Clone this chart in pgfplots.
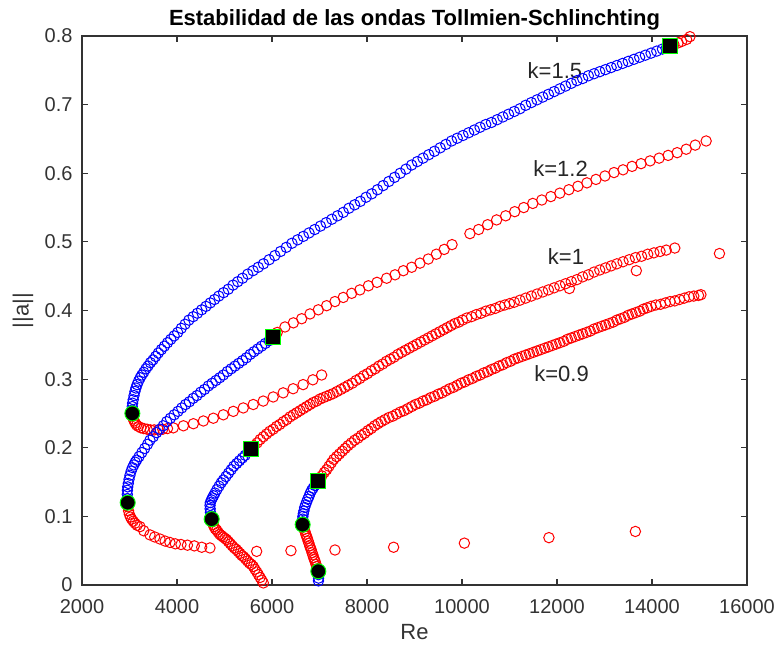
\documentclass[border=0pt]{standalone}
\usepackage{fontspec}
\setmainfont{Liberation Sans}
\usepackage{pgfplots}
\pgfplotsset{compat=1.18}

\pgfplotsset{
  bmk/.style={only marks, mark=o, mark size=2.6pt, color=blue, mark options={line width=0.5pt}},
  rmk/.style={only marks, mark=o, mark size=2.6pt, color=red, mark options={line width=0.5pt}},
}

\begin{document}
\begin{tikzpicture}
\path[use as bounding box] (0,0) rectangle (388.5pt,324pt);
\begin{axis}[
  at={(41pt,31.5pt)}, anchor=south west,
  width=332.5pt, height=274.5pt, scale only axis,
  xmin=2000, xmax=16000, ymin=0, ymax=0.8,
  xtick={2000,4000,6000,8000,10000,12000,14000,16000},
  ytick={0,0.1,0.2,0.3,0.4,0.5,0.6,0.7,0.8},
  scaled x ticks=false,
  tick align=inside, major tick length=3pt,
  axis line style={black!80, line width=0.6pt},
  tick style={black!80, line width=0.6pt},
  /pgf/number format/assume math mode=true,
  xticklabel style={/pgf/number format/1000 sep={}, font=\fontsize{10}{12}\selectfont, text=black!80, yshift=-3.5pt},
  yticklabel style={font=\fontsize{10}{12}\selectfont, text=black!80, xshift=-1.2pt},
  title={Estabilidad de las ondas Tollmien-Schlinchting},
  every axis title shift=0pt,
  title style={font=\fontsize{11}{13}\selectfont\bfseries, at={(axis description cs:0.5,1)}, anchor=base, yshift=5pt},
  xlabel={Re},
  xlabel style={font=\fontsize{11}{13}\selectfont, text=black!80, at={(axis description cs:0.5,0)}, anchor=base, yshift=-27.5pt},
  ylabel={||a||},
  ylabel style={font=\fontsize{11}{13}\selectfont, text=black!80, at={(axis description cs:-0.0887,0.5)}, anchor=center},
  clip=false,
]
% k = 1.5
\addplot[bmk] coordinates {
(3060,0.250)(3056,0.255)(3058,0.260)(3065,0.265)(3078,0.270)(3095,0.276)(3115,0.282)(3135,0.287)
(3160,0.292)(3190,0.297)(3225,0.302)(3260,0.306)(3300,0.310)(3345,0.315)(3390,0.319)(3440,0.324)
(3495,0.328)(3550,0.333)(3606,0.338)(3670,0.343)(3735,0.348)(3800,0.353)(3870,0.358)(3940,0.363)
(4015,0.368)(4090,0.374)(4170,0.380)(4250,0.386)(4340,0.391)(4430,0.396)(4520,0.401)(4610,0.406)
(4700,0.411)(4790,0.416)(4880,0.421)(4980,0.426)(5080,0.431)(5180,0.437)(5280,0.442)(5380,0.447)
(5490,0.453)(5600,0.458)(5710,0.463)(5820,0.468)(5940,0.474)(6060,0.480)(6180,0.486)(6300,0.492)
(6420,0.498)(6540,0.503)(6660,0.508)(6780,0.513)(6900,0.518)(7020,0.523)(7140,0.528)(7260,0.533)
(7380,0.538)(7500,0.543)(7620,0.549)(7740,0.554)(7860,0.559)(7980,0.565)(8100,0.570)(8220,0.576)
(8340,0.582)(8460,0.588)(8580,0.594)(8700,0.600)(8820,0.606)(8940,0.612)(9060,0.617)(9180,0.622)
(9300,0.627)(9420,0.632)(9540,0.637)(9660,0.642)(9780,0.647)(9900,0.651)(10020,0.655)(10140,0.659)
(10260,0.663)(10380,0.667)(10500,0.671)(10620,0.674)(10740,0.678)(10860,0.682)(10980,0.686)(11100,0.690)
(11220,0.694)(11340,0.699)(11460,0.703)(11580,0.707)(11700,0.711)(11820,0.715)(11940,0.719)(12060,0.723)
(12180,0.727)(12300,0.731)(12420,0.735)(12540,0.738)(12660,0.742)(12780,0.745)(12900,0.748)(13020,0.751)
(13140,0.754)(13260,0.757)(13380,0.760)(13500,0.763)(13620,0.766)(13740,0.769)(13860,0.772)(13980,0.775)
(14100,0.778)(14220,0.781)(14310,0.784)(14377,0.786)
};
\addplot[rmk] coordinates {
(3060,0.250)(3068,0.246)(3080,0.242)(3098,0.239)(3120,0.236)(3150,0.233)(3190,0.231)(3240,0.229)
(3300,0.228)(3370,0.227)(3440,0.226)(3520,0.226)(3610,0.226)(3700,0.227)(3800,0.228)(3922,0.229)
(4135,0.232)(4345,0.235)(4555,0.239)(4765,0.243)(4975,0.248)(5185,0.253)(5395,0.258)(5605,0.263)
(5815,0.268)(6025,0.274)(6235,0.280)(6445,0.286)(6655,0.292)(6860,0.299)(7045,0.306)
(14460,0.788)(14550,0.790)(14624,0.792)(14729,0.795)(14799,0.799)
};
% k = 1.2
\addplot[bmk] coordinates {
(2962,0.120)(2956,0.126)(2954,0.132)(2956,0.138)(2962,0.143)(2975,0.148)(2990,0.154)(3010,0.160)
(3035,0.166)(3062,0.171)(3092,0.175)(3120,0.179)(3151,0.182)(3200,0.187)(3260,0.193)(3320,0.199)
(3380,0.205)(3431,0.211)(3500,0.216)(3570,0.222)(3640,0.227)(3710,0.232)(3783,0.238)(3860,0.243)
(3940,0.248)(4020,0.253)(4100,0.258)(4180,0.263)(4260,0.267)(4340,0.272)(4420,0.276)(4500,0.281)
(4580,0.285)(4660,0.290)(4740,0.294)(4820,0.298)(4900,0.302)(4975,0.306)(5060,0.311)(5140,0.315)
(5220,0.319)(5300,0.323)(5380,0.327)(5460,0.331)(5540,0.336)(5620,0.340)(5700,0.344)(5780,0.348)
(5860,0.352)(5940,0.356)(6027,0.361)
};
\addplot[rmk] coordinates {
(6110,0.368)(6273,0.376)(6450,0.382)(6625,0.388)(6800,0.395)(6975,0.401)(7150,0.407)(7325,0.413)
(7500,0.419)(7677,0.425)(7850,0.430)(8030,0.436)(8210,0.441)(8414,0.447)(8590,0.452)(8765,0.458)
(8940,0.463)(9115,0.469)(9290,0.475)(9460,0.482)(9625,0.489)(9790,0.496)
(10167,0.512)(10350,0.518)(10540,0.525)(10729,0.532)(10920,0.538)(11110,0.544)(11300,0.550)(11490,0.556)
(11680,0.561)(11870,0.566)(12060,0.571)(12250,0.576)(12440,0.581)(12630,0.586)(12820,0.591)(13010,0.596)
(13200,0.601)(13390,0.605)(13580,0.610)(13770,0.614)(13960,0.618)(14150,0.622)(14340,0.626)(14530,0.630)
(14720,0.635)(14910,0.641)(15140,0.647)
(2962,0.120)(2968,0.114)(2980,0.108)(2998,0.103)(3020,0.099)(3046,0.096)(3078,0.093)(3116,0.090)
(3160,0.087)(3221,0.085)(3300,0.079)(3431,0.073)(3530,0.070)(3642,0.067)(3750,0.064)(3852,0.062)
(3965,0.060)(4084,0.059)(4220,0.058)(4364,0.057)(4520,0.055)(4694,0.054)(5677,0.049)(6399,0.050)
(7326,0.051)(8560,0.055)(10050,0.061)(11830,0.069)(13650,0.078)
};
% k = 1
\addplot[bmk] coordinates {
(4730,0.096)(4715,0.101)(4704,0.106)(4698,0.111)(4696,0.116)(4700,0.120)(4725,0.124)(4745,0.127)
(4770,0.130)(4800,0.134)(4840,0.139)(4885,0.144)(4930,0.149)(4975,0.153)(5030,0.158)(5085,0.163)
(5140,0.168)(5195,0.173)(5256,0.177)(5315,0.181)(5375,0.185)(5435,0.189)(5495,0.194)(5557,0.198)
};
\addplot[rmk] coordinates {
(5620,0.203)(5685,0.207)(5750,0.212)(5817,0.216)(5885,0.220)(5955,0.224)(6025,0.227)(6095,0.231)
(6165,0.234)(6238,0.238)(6310,0.241)(6380,0.245)(6450,0.248)(6520,0.251)(6590,0.254)(6660,0.257)
(6729,0.260)(6800,0.263)(6870,0.266)(6940,0.268)(7010,0.271)(7080,0.273)(7150,0.275)(7220,0.277)
(7290,0.279)(7370,0.282)(7450,0.285)(7530,0.288)(7606,0.291)(7690,0.294)(7770,0.298)(7850,0.301)
(7930,0.305)(8010,0.308)(8090,0.312)(8170,0.315)(8250,0.319)(8330,0.322)(8410,0.326)(8490,0.329)
(8570,0.332)(8650,0.336)(8730,0.339)(8810,0.342)(8890,0.345)(8970,0.348)(9050,0.351)(9130,0.354)
(9210,0.357)(9290,0.360)(9370,0.363)(9450,0.366)(9530,0.369)(9610,0.372)(9690,0.375)(9770,0.378)
(9850,0.381)(9930,0.383)(10010,0.386)(10100,0.389)(10200,0.391)(10300,0.394)(10400,0.396)(10500,0.399)
(10600,0.401)(10700,0.403)(10800,0.406)(10900,0.408)(11000,0.410)(11100,0.412)(11220,0.415)(11340,0.418)
(11460,0.421)(11580,0.424)(11700,0.427)(11820,0.430)(11940,0.433)(12060,0.436)(12180,0.439)(12300,0.442)
(12420,0.445)(12540,0.449)(12660,0.452)(12780,0.456)(12900,0.459)(13020,0.462)(13140,0.465)(13260,0.468)
(13390,0.471)(13520,0.474)(13650,0.477)(13780,0.479)(13910,0.482)(14040,0.484)(14170,0.486)(14300,0.488)
(14480,0.491)
(12260,0.432)(13670,0.458)(15420,0.483)
(4730,0.096)(4745,0.092)(4762,0.088)(4780,0.085)(4805,0.082)(4835,0.080)(4865,0.077)(4900,0.074)
(4935,0.072)(4970,0.070)(5010,0.068)(5046,0.066)(5085,0.063)(5125,0.060)(5165,0.057)(5205,0.054)
(5245,0.052)(5285,0.049)(5326,0.046)(5365,0.043)(5405,0.041)(5445,0.038)(5485,0.035)(5525,0.032)
(5565,0.030)(5606,0.027)(5640,0.023)(5680,0.019)(5715,0.015)(5750,0.011)(5785,0.007)(5817,0.003)
};
% k = 0.9
\addplot[bmk] coordinates {
(6645,0.088)(6643,0.092)(6645,0.096)(6650,0.100)(6659,0.104)(6672,0.108)(6688,0.113)(6708,0.117)
(6729,0.121)(6752,0.125)(6778,0.129)(6805,0.134)(6835,0.138)(6865,0.141)(6900,0.145)(6935,0.148)
(6975,0.152)
(6978,0.015)(6980,0.010)(6978,0.006)
};
\addplot[rmk] coordinates {
(6645,0.088)(6662,0.085)(6678,0.081)(6695,0.078)(6711,0.074)(6728,0.071)(6744,0.068)(6761,0.064)
(6777,0.061)(6794,0.057)(6810,0.054)(6827,0.051)(6843,0.047)(6860,0.044)(6876,0.040)(6893,0.037)
(6909,0.034)(6926,0.030)(6942,0.027)(6959,0.023)(6975,0.020)
(7000,0.154)(7050,0.159)(7100,0.164)(7150,0.168)(7200,0.173)(7250,0.178)(7300,0.183)(7360,0.187)
(7420,0.191)(7480,0.195)(7540,0.199)(7600,0.203)(7670,0.207)(7740,0.211)(7810,0.214)(7880,0.218)
(7950,0.221)(8020,0.225)(8090,0.228)(8160,0.232)(8230,0.235)(8300,0.238)(8380,0.241)(8460,0.244)
(8540,0.246)(8620,0.249)(8700,0.252)(8780,0.254)(8860,0.257)(8940,0.260)(9020,0.263)(9100,0.265)
(9180,0.268)(9260,0.270)(9340,0.273)(9420,0.275)(9500,0.278)(9580,0.280)(9660,0.283)(9740,0.286)
(9820,0.288)(9900,0.291)(9980,0.294)(10060,0.296)(10140,0.299)(10220,0.301)(10300,0.304)(10380,0.306)
(10460,0.309)(10540,0.311)(10620,0.314)(10700,0.316)(10780,0.319)(10860,0.321)(10940,0.324)(11020,0.326)
(11100,0.329)(11180,0.331)(11260,0.333)(11340,0.335)(11420,0.337)(11500,0.339)(11580,0.341)(11660,0.343)
(11740,0.345)(11820,0.347)(11900,0.349)(11980,0.351)(12060,0.353)(12140,0.355)(12220,0.358)(12300,0.360)
(12380,0.362)(12460,0.364)(12540,0.366)(12620,0.368)(12700,0.370)(12780,0.373)(12860,0.375)(12940,0.377)
(13020,0.379)(13100,0.381)(13180,0.383)(13260,0.386)(13340,0.388)(13420,0.390)(13500,0.393)(13580,0.395)
(13660,0.397)(13740,0.399)(13820,0.402)(13900,0.404)(13980,0.406)(14080,0.408)(14180,0.409)(14280,0.411)
(14380,0.413)(14480,0.414)(14580,0.416)(14680,0.418)(14780,0.420)(14880,0.421)(14980,0.422)(15030,0.423)
};
% special points
\addplot[only marks, mark=*, mark size=3.75pt, mark options={fill=black, draw=green, line width=0.5pt}]
  coordinates {(3060,0.250)(2962,0.120)(4730,0.096)(6645,0.088)(6975,0.020)};
\addplot[only marks, mark=square*, mark size=3.75pt, mark options={fill=black, draw=green, line width=0.5pt}]
  coordinates {(14377,0.786)(6027,0.361)(5557,0.198)(6975,0.152)};
\node[font=\fontsize{11}{13}\selectfont, text=black!85] at (axis cs:11956,0.750) {k=1.5};
\node[font=\fontsize{11}{13}\selectfont, text=black!85] at (axis cs:12076,0.607) {k=1.2};
\node[font=\fontsize{11}{13}\selectfont, text=black!85] at (axis cs:12189,0.479) {k=1};
\node[font=\fontsize{11}{13}\selectfont, text=black!85] at (axis cs:12097,0.308) {k=0.9};
\end{axis}
\end{tikzpicture}
\end{document}
